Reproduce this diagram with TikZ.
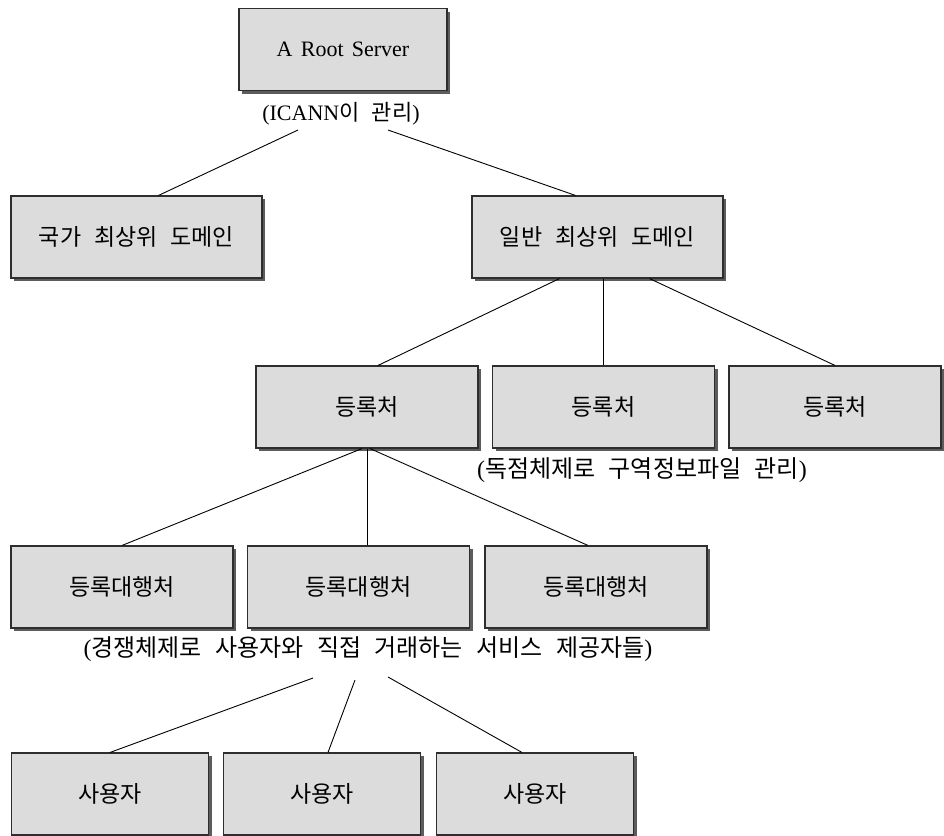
\documentclass[tikz,border=0pt]{standalone}
\usepackage{fontspec}
\setmainfont{Liberation Serif}[WordSpace=1.5]
\newfontfamily\kr{Noto Sans CJK KR}[WordSpace=1.8]
\newfontfamily\krwide{Noto Sans CJK KR}[WordSpace=2.5]
\usetikzlibrary{shadows}

\definecolor{boxgray}{HTML}{DCDCDC}
\definecolor{edgegray}{HTML}{2E2E2E}
\definecolor{shadegray}{HTML}{5C5C5C}

\begin{document}
\begin{tikzpicture}[x=1pt, y=-1pt,
    unit/.style={draw=edgegray, line width=1.1pt, fill=boxgray, minimum height=82pt, inner sep=0pt,
        font=\kr\fontsize{23}{27}\selectfont,
        drop shadow={shadow xshift=3pt, shadow yshift=-3pt, fill=shadegray, opacity=1}},
    note/.style={font=\krwide\fontsize{24}{28}\selectfont, inner sep=0pt},
    link/.style={line width=0.9pt}]
    \useasboundingbox (0,0) rectangle (944,835);

    % top
    \node[unit, minimum width=208pt, font=\fontsize{22}{26}\selectfont] (root) at (343,49.5) {A Root Server};
    \node[note, font=\kr\fontsize{22}{26}\selectfont] (rootnote) at (341,114)
        {{\rmfamily\fontsize{22}{26}\selectfont(ICANN}이 관리{\rmfamily)}};
    \node[unit, minimum width=251pt] (ntld) at (136.5,237) {국가 최상위 도메인};
    \node[unit, minimum width=251pt] (gtld) at (597.5,237) {일반 최상위 도메인};

    % registries
    \node[unit, minimum width=222pt] (reg1) at (367,407) {등록처};
    \node[unit, minimum width=222pt] (reg2) at (603.5,407) {등록처};
    \node[unit, minimum width=212pt] (reg3) at (835,407) {등록처};
    \node[note] (regnote) at (642,470) {{\rmfamily(}독점체제로 구역정보파일 관리{\rmfamily)}};

    % registrars
    \foreach \n/\x in {agent1/122, agent2/358.5, agent3/596}
        \node[unit, minimum width=222pt] (\n) at (\x,587) {등록대행처};
    \node[note] (agentnote) at (368,649) {{\rmfamily(}경쟁체제로 사용자와 직접 거래하는 서비스 제공자들{\rmfamily)}};

    % users
    \foreach \n/\x in {user1/110, user2/322, user3/535}
        \node[unit, minimum width=197pt] (\n) at (\x,794) {사용자};

    \coordinate (rl) at (298,130);
    \coordinate (rr) at (388,130);
    \coordinate (al) at (313,678);
    \coordinate (am) at (355,680);
    \coordinate (ar) at (388,677);

    \draw[link] (rl) -- ([xshift=22pt]ntld.north);
    \draw[link] (rr) -- ([xshift=-22pt]gtld.north);
    \draw[link] ([xshift=-38pt]gtld.south) -- ([xshift=11pt]reg1.north);
    \draw[link] (reg2.north |- gtld.south) -- (reg2.north);
    \draw[link] ([xshift=52pt]gtld.south) -- (reg3.north);
    \draw[link] ([xshift=-5pt]reg1.south) -- (agent1.north);
    \draw[link] (reg1.south) -- (reg1.south |- agent2.north);
    \draw[link] ([xshift=3pt]reg1.south) -- ([xshift=-8pt]agent3.north);
    \draw[link] (al) -- (user1.north);
    \draw[link] (am) -- ([xshift=6pt]user2.north);
    \draw[link] (ar) -- ([xshift=-13pt]user3.north);
\end{tikzpicture}
\end{document}
